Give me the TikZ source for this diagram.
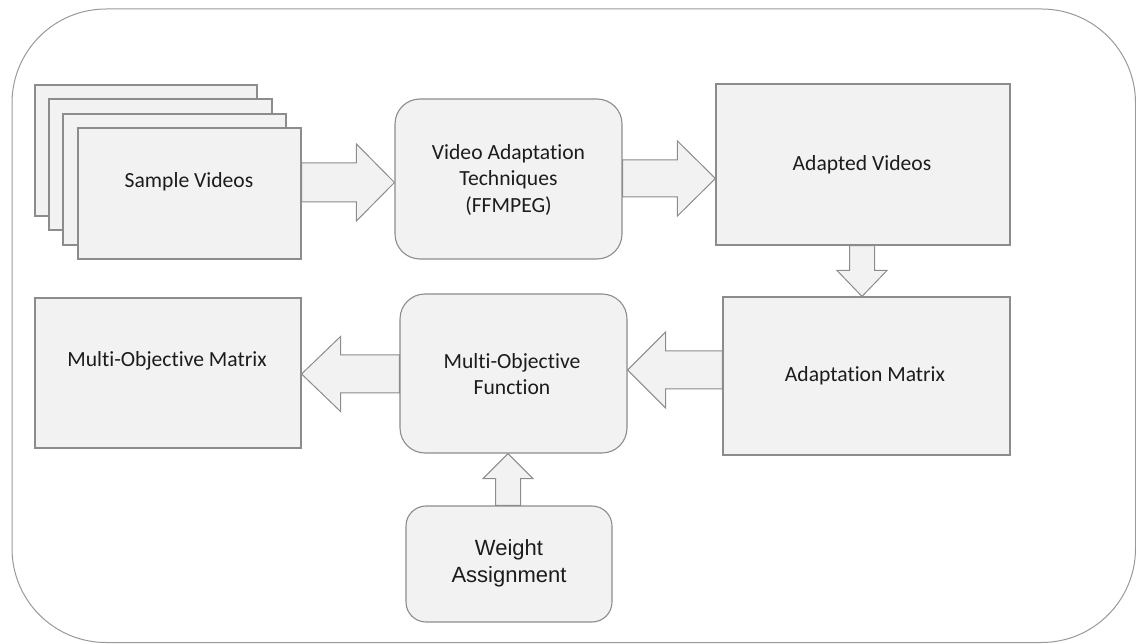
\documentclass[tikz,border=0pt]{standalone}
\usepackage{fontspec}
\setmainfont{Carlito}[Ligatures=NoCommon]
\newfontfamily\arialf{Liberation Sans}
\usetikzlibrary{calc}
\definecolor{boxfill}{HTML}{F2F2F2}
\definecolor{boxline}{HTML}{8C8C8C}
\definecolor{outerline}{HTML}{999999}
\definecolor{txt}{HTML}{1C1C1C}
\newcommand{\barrowdraw}[5]{%
  \coordinate (ba-hb) at ($(#2)!#5!(#1)$);
  \draw[barr] ($(#1)!#3!90:(#2)$) -- ($(ba-hb)!#3!-90:(#1)$) -- ($(ba-hb)!#4!-90:(#1)$) -- (#2)
    -- ($(ba-hb)!#4!90:(#1)$) -- ($(ba-hb)!#3!90:(#1)$) -- ($(#1)!#3!-90:(#2)$) -- cycle;}
\begin{document}
\begin{tikzpicture}[x=1pt,y=-1pt,
  sqbox/.style={draw=boxline,fill=boxfill,line width=1.1pt,inner sep=0pt},
  rdbox/.style={sqbox,rounded corners=25pt},
  lbl/.style={text=txt,font=\fontsize{21.6}{26.5}\selectfont,align=center},
  albl/.style={text=txt,font=\arialf\fontsize{22}{27}\selectfont,align=center},
  barr/.style={draw=boxline,fill=boxfill,line width=1pt,line join=miter}]
\useasboundingbox (0,0) rectangle (1136,644);
\draw[outerline,line width=1pt,rounded corners=94pt] (12,9) rectangle (1135.5,642.5);
% stacked sample videos
\node[sqbox,minimum width=222pt,minimum height=131pt] (sv1) at (146,150.5) {};
\node[sqbox,minimum width=223pt,minimum height=131pt] (sv2) at (160.5,164.5) {};
\node[sqbox,minimum width=223pt,minimum height=131pt] (sv3) at (174.5,179.5) {};
\node[sqbox,minimum width=223pt,minimum height=131pt] (sv) at (189.5,193.5) {};
\node[lbl] (svt) at (189,182) {Sample Videos};
% video adaptation techniques
\node[rdbox,minimum width=227pt,minimum height=160pt] (vat) at (508.5,179) {};
\node[lbl] (vatt) at (508.5,180) {Video Adaptation\\Techniques\\(FFMPEG)};
% adapted videos
\node[sqbox,minimum width=294pt,minimum height=161pt] (av) at (863,164.5) {};
\node[lbl] (avt) at (862,165) {Adapted Videos};
% adaptation matrix
\node[sqbox,minimum width=287pt,minimum height=158pt] (am) at (866.5,376) {};
\node[lbl] (amt) at (865,376) {Adaptation Matrix};
% multi-objective function
\node[rdbox,minimum width=227pt,minimum height=159pt] (mof) at (513.5,373.5) {};
\node[lbl] (moft) at (512,374) {Multi-Objective\\Function};
% multi-objective matrix
\node[sqbox,minimum width=266pt,minimum height=150pt] (mom) at (168,373) {};
\node[lbl] (momt) at (167,361) {Multi-Objective Matrix};
% weight assignment
\node[sqbox,rounded corners=20pt,minimum width=206pt,minimum height=116pt] (wa) at (509,564) {};
\node[albl] (wat) at (509,563.5) {Weight\\Assignment};
% connector end points
\coordinate (a1s) at (sv.east |- 0,182.5);
\coordinate (a1e) at (vat.west |- 0,182.5);
\coordinate (a2s) at (vat.east |- 0,178.5);
\coordinate (a2e) at (av.west |- 0,178.5);
\coordinate (a3s) at (av.south -| 862,0);
\coordinate (a3e) at (am.north -| 862,0);
\coordinate (a4s) at (am.west |- 0,370);
\coordinate (a4e) at (mof.east |- 0,370);
\coordinate (a5s) at (mof.west |- 0,374);
\coordinate (a5e) at (mom.east |- 0,374);
\coordinate (a6s) at (wa.north -| 508,0);
\coordinate (a6e) at (mof.south -| 508,0);
\barrowdraw{a1s}{a1e}{19.5pt}{38.5pt}{38pt}
\barrowdraw{a2s}{a2e}{18.5pt}{37.5pt}{38pt}
\barrowdraw{a3s}{a3e}{12.5pt}{25pt}{26pt}
\barrowdraw{a4s}{a4e}{19pt}{38pt}{38pt}
\barrowdraw{a5s}{a5e}{19pt}{37.5pt}{39pt}
\barrowdraw{a6s}{a6e}{12.5pt}{25pt}{25pt}
\end{tikzpicture}
\end{document}
